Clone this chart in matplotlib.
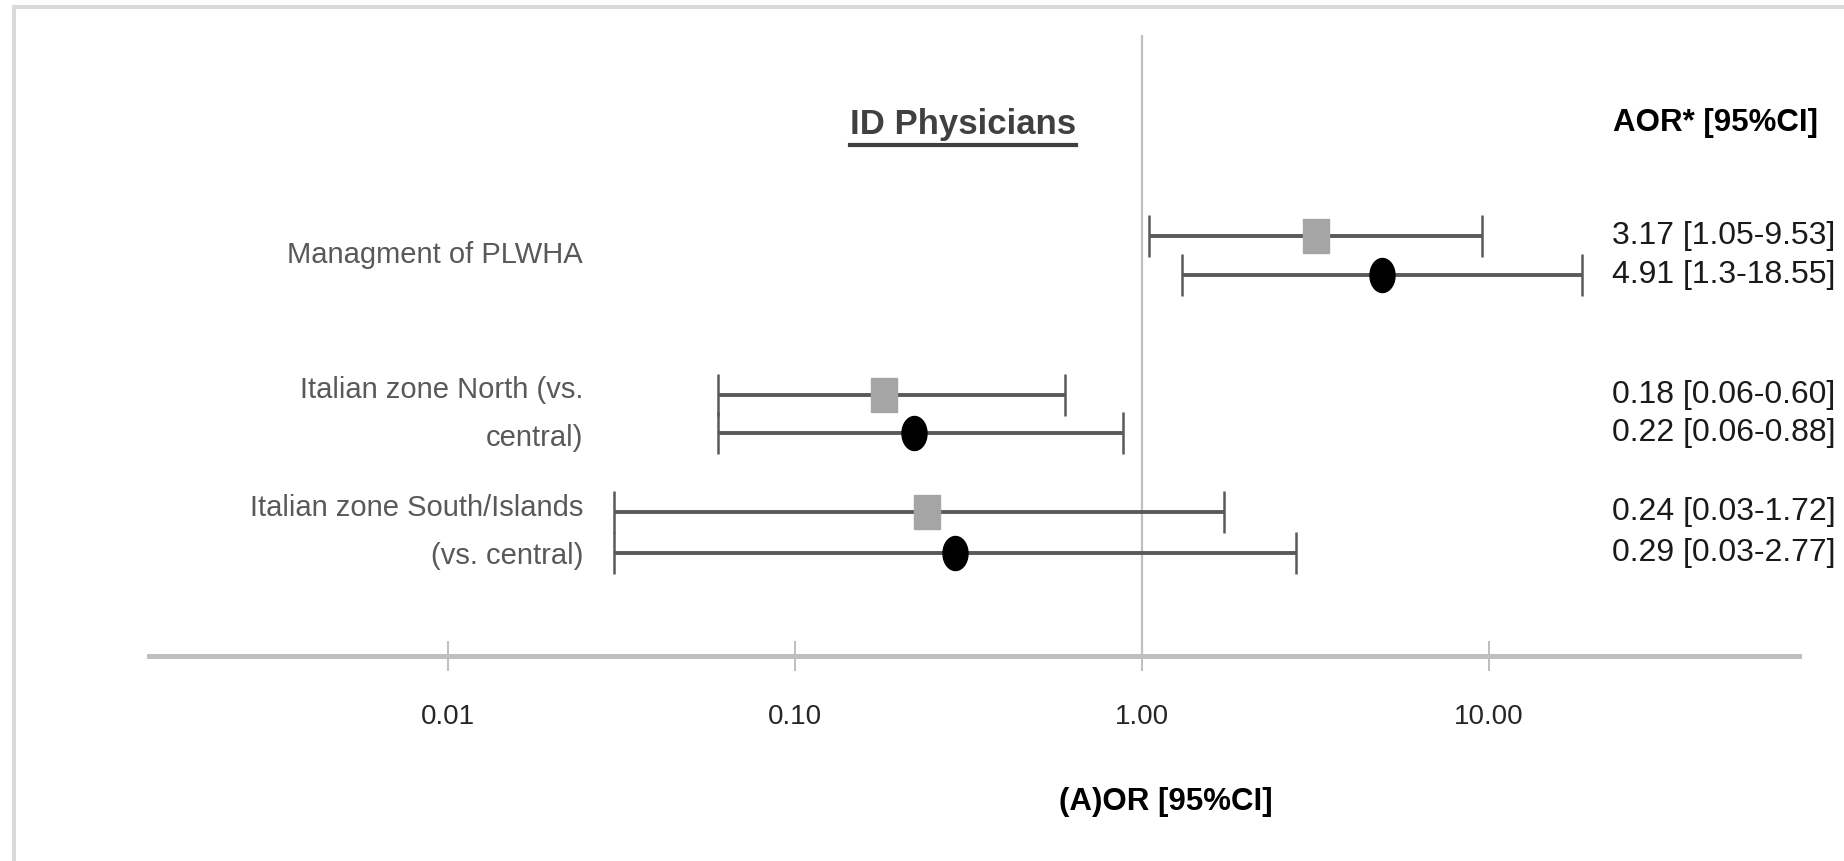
import numpy as np
import matplotlib
matplotlib.use('Agg')
import matplotlib.pyplot as plt
from matplotlib.patches import Rectangle
from matplotlib.lines import Line2D
from matplotlib.transforms import blended_transform_factory

plt.rcParams['font.family'] = ['Liberation Sans', 'DejaVu Sans']

# categories, two estimates per category (grey square / black dot)
categories = ['Managment of PLWHA',
              'Italian zone North (vs.\ncentral)',
              'Italian zone South/Islands\n(vs. central)']

sq_or = [3.17, 0.18, 0.24]
sq_lo = [1.05, 0.06, 0.03]
sq_hi = [9.53, 0.60, 1.72]

dot_or = [4.91, 0.22, 0.29]
dot_lo = [1.3, 0.06, 0.03]
dot_hi = [18.55, 0.88, 2.77]

sq_labels = ['3.17 [1.05-9.53]', '0.18 [0.06-0.60]', '0.24 [0.03-1.72]']
dot_labels = ['4.91 [1.3-18.55]', '0.22 [0.06-0.88]', '0.29 [0.03-2.77]']

# vertical positions of the rows
sq_y = [4.06, 2.52, 1.39]
dot_y = [3.68, 2.15, 1.00]

xticks = [0.01, 0.1, 1, 10]
xticklabels = ['0.01', '0.10', '1.00', '10.00']

W, H = 1844, 861
fig = plt.figure(figsize=(W / 100, H / 100), dpi=100)


def fx(px):
    return px / W


def fy(py):
    return 1 - py / H


ax = fig.add_axes([fx(149), fy(656), fx(1799) - fx(149), fy(35) - fy(656)])
ax.set_xscale('log')
ax.set_xlim(0.001375, 78.2)
ax.set_ylim(0, 6)

for s in ['top', 'right', 'left']:
    ax.spines[s].set_visible(False)
ax.spines['bottom'].set_color('#BFBFBF')
ax.spines['bottom'].set_linewidth(3.6)
ax.set_yticks([])
ax.set_xticks(xticks)
ax.set_xticklabels(xticklabels)
ax.xaxis.set_minor_locator(matplotlib.ticker.NullLocator())
ax.tick_params(axis='x', direction='inout', length=21, width=1.4, color='#BFBFBF',
               labelsize=20, labelcolor='#262626', pad=24)

ax.axvline(1, color='#BFBFBF', lw=1.6, zorder=1)

# marker shapes: taller than wide
sq_marker = [(-0.735, -1), (0.735, -1), (0.735, 1), (-0.735, 1), (-0.735, -1)]
t = np.linspace(0, 2 * np.pi, 60)
dot_marker = list(zip(0.735 * np.cos(t), np.sin(t)))

err_kw = dict(ecolor='#595959', elinewidth=2.8, capsize=15, capthick=1.8, ls='none', zorder=3)

sq_err = [np.subtract(sq_or, sq_lo), np.subtract(sq_hi, sq_or)]
dot_err = [np.subtract(dot_or, dot_lo), np.subtract(dot_hi, dot_or)]

ax.errorbar(sq_or, sq_y, xerr=sq_err, marker=sq_marker, ms=24.5, mfc='#A5A5A5',
            mec='#A5A5A5', **err_kw)
ax.errorbar(dot_or, dot_y, xerr=dot_err, marker=dot_marker, ms=24.5, mfc='black',
            mec='black', **err_kw)

tr = blended_transform_factory(ax.transAxes, ax.transData)
lab_x = (1612 - 149) / 1650
for y, lab in zip(sq_y, sq_labels):
    ax.text(lab_x, y, lab, transform=tr, ha='left', va='center', fontsize=23,
            color='#1a1a1a', clip_on=False)
for y, lab in zip(dot_y, dot_labels):
    ax.text(lab_x, y, lab, transform=tr, ha='left', va='center', fontsize=23,
            color='#1a1a1a', clip_on=False)

cat_x = (583 - 149) / 1650
for y1, y2, cat in zip(sq_y, dot_y, categories):
    ax.text(cat_x, (y1 + y2) / 2, cat, transform=tr, ha='right', va='center',
            fontsize=21, color='#595959', linespacing=1.9, multialignment='right')

# headers
title = fig.text(fx(963), fy(134), 'ID Physicians', ha='center', va='baseline',
                 fontsize=25, fontweight='bold', color='#404040')
fig.text(fx(1613), fy(131), 'AOR* [95%CI]', ha='left', va='baseline',
         fontsize=22.5, fontweight='bold', color='black')
fig.text(fx(1166), fy(802), '(A)OR [95%CI]', ha='center', va='center',
         fontsize=22.5, fontweight='bold', color='black')

# underline of the title
fig.canvas.draw()
bb = title.get_window_extent()
fig.add_artist(Line2D([bb.x0 / W, bb.x1 / W], [fy(145), fy(145)], color='#404040',
                      lw=3, transform=fig.transFigure))

# outer chart frame (only top and left edges visible)
fig.add_artist(Rectangle((fx(13.5), fy(H + 50)), fx(W + 100), fy(7) - fy(H + 50),
                         fill=False, ec='#D9D9D9', lw=2.9, transform=fig.transFigure))

fig.savefig('out.png', dpi=100)
